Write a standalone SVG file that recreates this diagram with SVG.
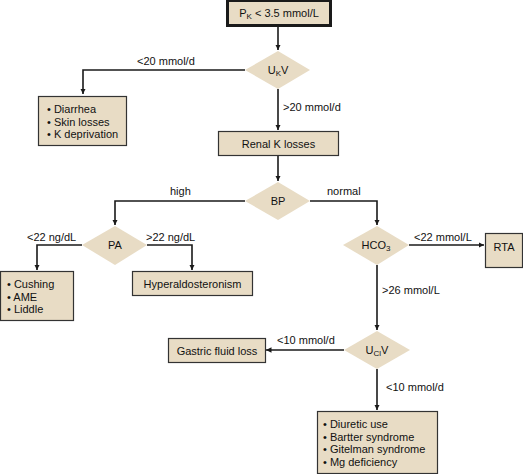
<svg xmlns="http://www.w3.org/2000/svg" width="523" height="474" viewBox="0 0 523 474">
<defs>
<marker id="ah" viewBox="0 0 10 10" refX="10" refY="5" markerWidth="5.5" markerHeight="5.5" orient="auto" markerUnits="userSpaceOnUse"><path d="M0,0 L10,5 L0,10 z" fill="#1a1a1a"/></marker>
<style>
.bx{fill:#e8dcc5;stroke:#333;stroke-width:1.2}
.dm{fill:#e8dcc5;stroke:none}
.tx{font-family:"Liberation Sans",Arial,sans-serif;font-size:11px;fill:#111}
.c{text-anchor:middle}
.ln{fill:none;stroke:#1a1a1a;stroke-width:1.6}
.sub{font-size:8px}
</style>
</defs>
<rect width="523" height="474" fill="#fff"/>
<g id="connectors">
<path class="ln" d="M278,26 V50" marker-end="url(#ah)"/>
<path class="ln" d="M245,70 H83 V94" marker-end="url(#ah)"/>
<path class="ln" d="M278,89 V130" marker-end="url(#ah)"/>
<path class="ln" d="M278,155 V181" marker-end="url(#ah)"/>
<path class="ln" d="M245,201 H115 V225" marker-end="url(#ah)"/>
<path class="ln" d="M310,201 H377 V225" marker-end="url(#ah)"/>
<path class="ln" d="M82,245 H37 V270" marker-end="url(#ah)"/>
<path class="ln" d="M147,245 H192 V270" marker-end="url(#ah)"/>
<path class="ln" d="M409,245 H484" marker-end="url(#ah)"/>
<path class="ln" d="M377,265 V330" marker-end="url(#ah)"/>
<path class="ln" d="M344,350 H266" marker-end="url(#ah)"/>
<path class="ln" d="M377,369 V410" marker-end="url(#ah)"/>
<text class="tx" x="137" y="65">&lt;20 mmol/d</text>
<text class="tx" x="283" y="111">&gt;20 mmol/d</text>
<text class="tx" x="170" y="195">high</text>
<text class="tx" x="327" y="195">normal</text>
<text class="tx" x="27" y="241">&lt;22 ng/dL</text>
<text class="tx" x="146" y="241">&gt;22 ng/dL</text>
<text class="tx" x="414" y="241">&lt;22 mmol/L</text>
<text class="tx" x="382" y="294">&gt;26 mmol/L</text>
<text class="tx" x="277" y="344">&lt;10 mmol/d</text>
<text class="tx" x="386" y="391">&lt;10 mmol/d</text>
</g>
<g id="pk">
<rect x="227.5" y="0.5" width="103" height="25" fill="#e8dcc5" stroke="#1a1a1a" stroke-width="3"/>
<text class="tx c" x="279" y="17">P<tspan class="sub" dy="2">K</tspan><tspan dy="-2"> &lt; 3.5 mmol/L</tspan></text>
</g>
<g id="ukv">
<path class="dm" d="M278,51 L310,70 L278,89 L245,70 z"/>
<text class="tx c" x="278" y="74">U<tspan class="sub" dy="2">K</tspan><tspan dy="-2">V</tspan></text>
</g>
<g id="extrarenal">
<rect class="bx" x="38.5" y="96.5" width="88" height="49"/>
<text class="tx" x="47" y="113">• Diarrhea</text>
<text class="tx" x="47" y="125.5">• Skin losses</text>
<text class="tx" x="47" y="138">• K deprivation</text>
</g>
<g id="renal">
<rect class="bx" x="218.5" y="131.5" width="120" height="24"/>
<text class="tx c" x="278.5" y="148">Renal K losses</text>
</g>
<g id="bp">
<path class="dm" d="M278,182 L310,201 L278,220 L245,201 z"/>
<text class="tx c" x="278" y="205">BP</text>
</g>
<g id="pa">
<path class="dm" d="M115,226 L147,245 L115,265 L82,245 z"/>
<text class="tx c" x="115" y="249">PA</text>
</g>
<g id="cushing">
<rect class="bx" x="0.5" y="271.5" width="73" height="49"/>
<text class="tx" x="7" y="288">• Cushing</text>
<text class="tx" x="7" y="300.5">• AME</text>
<text class="tx" x="7" y="313">• Liddle</text>
</g>
<g id="hyperaldo">
<rect class="bx" x="132.5" y="271.5" width="120" height="24"/>
<text class="tx c" x="192.5" y="288">Hyperaldosteronism</text>
</g>
<g id="hco3">
<path class="dm" d="M377,226 L409,245 L377,265 L343,245 z"/>
<text class="tx c" x="376" y="249">HCO<tspan class="sub" dy="2">3</tspan></text>
</g>
<g id="rta">
<rect class="bx" x="485.5" y="233.5" width="37" height="34"/>
<text class="tx c" x="504" y="251">RTA</text>
</g>
<g id="uclv">
<path class="dm" d="M377,331 L410,350 L377,369 L344,350 z"/>
<text class="tx c" x="377" y="354">U<tspan class="sub" dy="2">Cl</tspan><tspan dy="-2">V</tspan></text>
</g>
<g id="gastric">
<rect class="bx" x="168.5" y="338.5" width="97" height="24"/>
<text class="tx c" x="217" y="355">Gastric fluid loss</text>
</g>
<g id="diuretic">
<rect class="bx" x="317.5" y="411.5" width="120" height="62"/>
<text class="tx" x="323" y="428">• Diuretic use</text>
<text class="tx" x="323" y="440.5">• Bartter syndrome</text>
<text class="tx" x="323" y="453">• Gitelman syndrome</text>
<text class="tx" x="323" y="465.5">• Mg deficiency</text>
</g>
</svg>
